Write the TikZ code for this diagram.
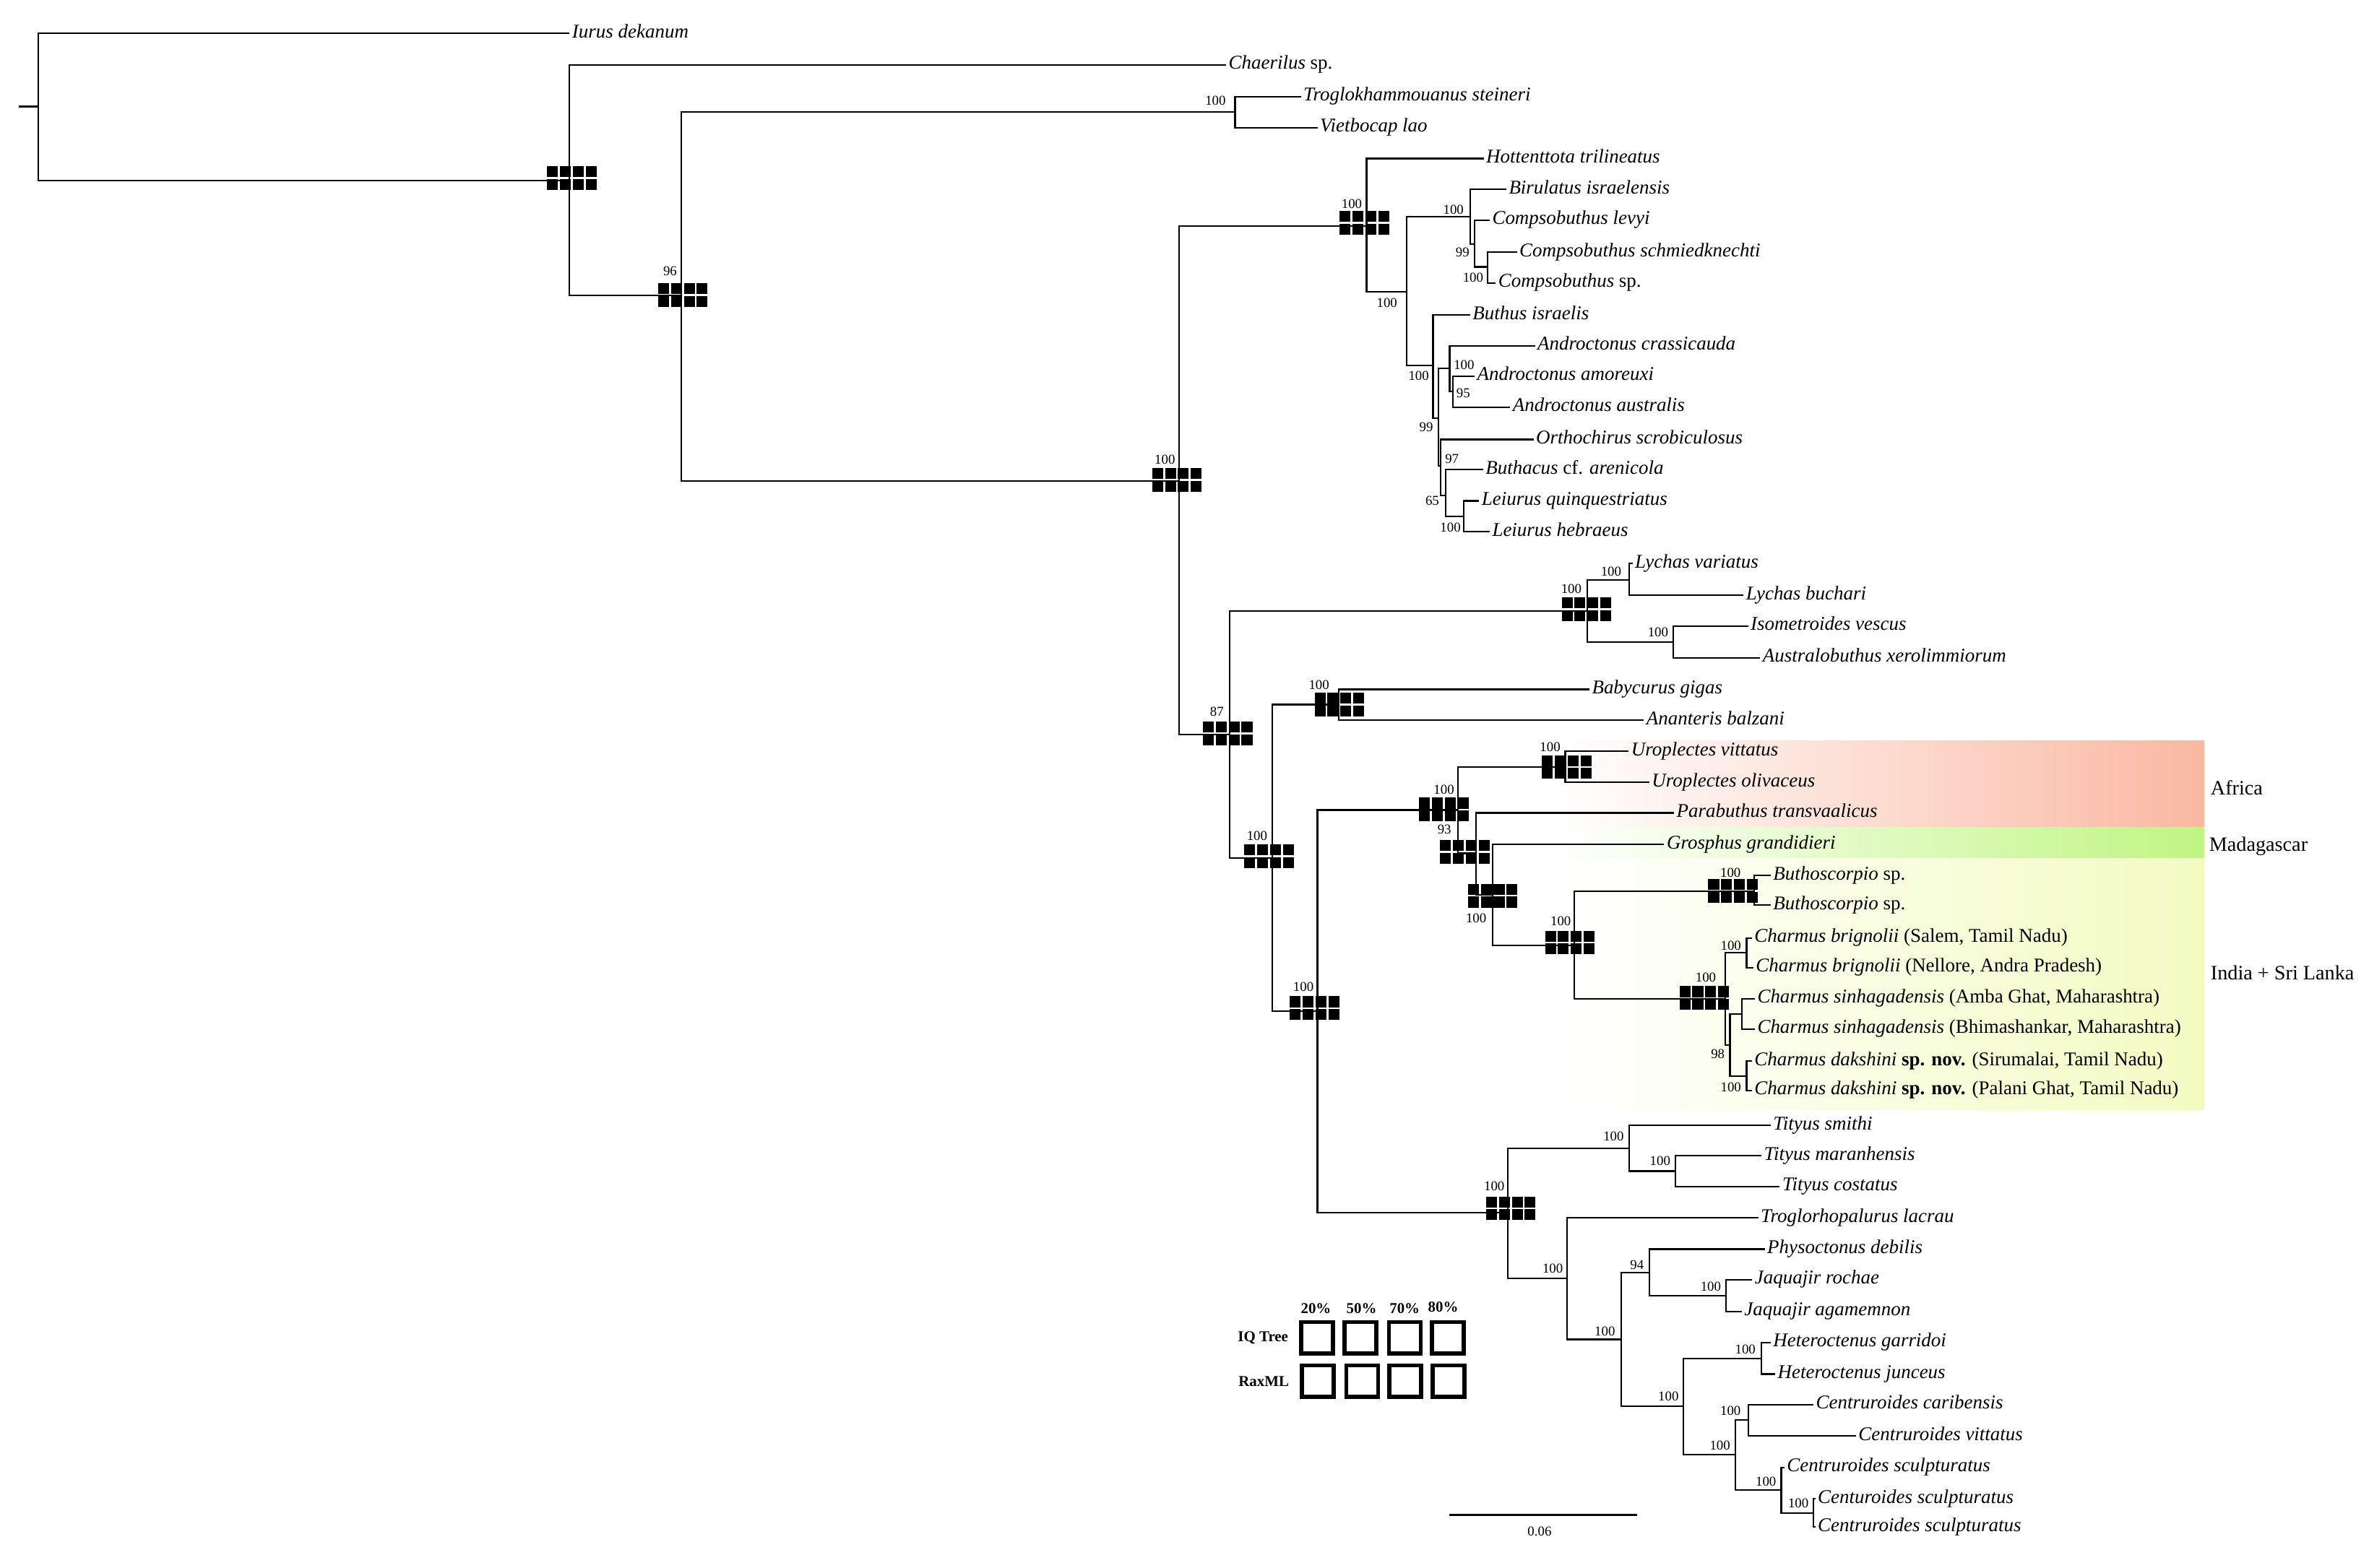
\documentclass[tikz,border=0pt]{standalone}
\usepackage{fontspec}
\setmainfont{Liberation Serif}
\usepackage{tikz}
\definecolor{africa}{RGB}{250,184,162}
\definecolor{madagascar}{RGB}{192,245,130}
\definecolor{india}{RGB}{243,251,194}

\tikzset{
  support/.pic={
    \foreach \i in {0,...,3}
      \foreach \j in {0,1}
        \fill (-16.35+8.5*\i,-7.85+8.5*\j) rectangle ++(7.2,7.2);
  },
  branch/.style={line width=1.05pt},
  taxon/.style={anchor=base west, inner sep=0pt, xshift=1.5pt, yshift=-2.9pt,
    font=\fontsize{12.9}{14}\selectfont},
  boot/.style={inner sep=0pt, font=\fontsize{9}{9}\selectfont},
  region/.style={anchor=west, inner sep=0pt, font=\fontsize{13.5}{15}\selectfont},
  legendbox/.style={draw, line width=2.6pt, minimum size=21pt, inner sep=0pt},
  legendtext/.style={inner sep=0pt, font=\bfseries\fontsize{10}{11}\selectfont}
}

\begin{document}
\begin{tikzpicture}[x=1pt,y=-1pt]
\useasboundingbox (0,0) rectangle (1568,1038.1);

\shade[left color=white, right color=africa] (1030,490.5) rectangle (1458.6,547.8);
\shade[left color=white, right color=madagascar] (1030,547.8) rectangle (1458.6,568.2);
\shade[left color=white, right color=india] (1030,568.2) rectangle (1458.6,734.7);
\node[region] (africaL) at (1463,521.4) {Africa};
\node[region] (madaL) at (1462,560.5) {Madagascar};
\node[region] (indiaL) at (1463,644) {India + Sri Lanka};

\pic at (378.5,118) {support};
\pic at (452,195.5) {support};
\pic at (779,317.6) {support};
\pic at (903,147.5) {support};
\pic at (812.6,485.5) {support};
\pic at (1050,403.5) {support};
\pic at (840,567) {support};
\pic at (886.5,466.5) {support};
\pic at (870,667.5) {support};
\pic at (955.7,536) {support};
\pic at (1037,507.8) {support};
\pic at (969.5,564) {support};
\pic at (988,593) {support};
\pic at (1039,624) {support};
\pic at (1147,590) {support};
\pic at (1128,660.8) {support};
\pic at (1000,800) {support};

\coordinate (root0) at (12.5,70.5);
\coordinate (R) at (25.2,70.5);
\coordinate (A) at (377,119.5);
\coordinate (B) at (451,195.5);
\coordinate (C) at (817.5,74);
\coordinate (D) at (780.5,318.5);
\coordinate (E) at (904.5,149.5);
\coordinate (F) at (931,193);
\coordinate (G) at (973,143.5);
\coordinate (H) at (976,161.6);
\coordinate (I) at (984.5,176.7);
\coordinate (J) at (948.5,242);
\coordinate (K) at (952,276.7);
\coordinate (L) at (959.5,244);
\coordinate (M) at (961.5,259.3);
\coordinate (N) at (953.5,308.6);
\coordinate (O) at (956.8,328);
\coordinate (P) at (969,342);
\coordinate (Q) at (814,486.5);
\coordinate (S) at (1050.6,404.5);
\coordinate (T) at (1078.4,384);
\coordinate (U) at (1107.3,425);
\coordinate (V) at (842,568);
\coordinate (W) at (886,466.5);
\coordinate (X) at (872,669.5);
\coordinate (N1) at (964.8,536.3);
\coordinate (Uro) at (1036,507.7);
\coordinate (N2) at (977,565);
\coordinate (N3) at (988,592.5);
\coordinate (N4) at (1042,626);
\coordinate (N5) at (1142,661.3);
\coordinate (N6) at (1161,590);
\coordinate (brig) at (1156,630.8);
\coordinate (N7) at (1145,692);
\coordinate (sinh) at (1153,671.3);
\coordinate (daks) at (1156,712.5);
\coordinate (Y) at (998,803);
\coordinate (Tit) at (1078.3,760.2);
\coordinate (Tit2) at (1108.8,775.4);
\coordinate (Z) at (1037,846.5);
\coordinate (Z2) at (1073,886.8);
\coordinate (Phy) at (1091.8,842.5);
\coordinate (Jaq) at (1142.4,857.7);
\coordinate (Z3) at (1114,931);
\coordinate (Het) at (1165.8,899.3);
\coordinate (Cen) at (1148.5,963.2);
\coordinate (Cen1) at (1157.3,940.3);
\coordinate (Cen2) at (1179,986.6);
\coordinate (Cen3) at (1200.3,1001.7);

\coordinate (iurus) at (377,22);
\coordinate (chaer) at (811.5,43);
\coordinate (trog) at (861,64);
\coordinate (viet) at (872,84.5);
\coordinate (hott) at (982,105);
\coordinate (biru) at (997,125.4);
\coordinate (clev) at (986,145.7);
\coordinate (csch) at (1004,167);
\coordinate (csp) at (990,187.3);
\coordinate (buth) at (973,208.5);
\coordinate (acra) at (1016,229);
\coordinate (aamo) at (976,249);
\coordinate (aaus) at (999.6,269.6);
\coordinate (orth) at (1015,291);
\coordinate (buthac) at (981.6,311);
\coordinate (lqui) at (979,331.6);
\coordinate (lheb) at (986,352);
\coordinate (lvar) at (1080.5,373);
\coordinate (lbuc) at (1154,394.2);
\coordinate (isom) at (1157,414.5);
\coordinate (aust) at (1165,435.6);
\coordinate (baby) at (1052,456.4);
\coordinate (anan) at (1088,476.8);
\coordinate (uvit) at (1078,497.3);
\coordinate (uoli) at (1091.6,518);
\coordinate (para) at (1108,538.2);
\coordinate (gros) at (1101.5,559);
\coordinate (bsp1) at (1172,579.6);
\coordinate (bsp2) at (1172,599.3);
\coordinate (cbs) at (1159.5,621);
\coordinate (cbn) at (1160.5,640.6);
\coordinate (csa) at (1161.5,661.3);
\coordinate (csb) at (1161.5,681.3);
\coordinate (cds) at (1159.5,702.5);
\coordinate (cdp) at (1159.5,722);
\coordinate (tsmi) at (1172,745);
\coordinate (tmar) at (1165.8,765.2);
\coordinate (tcos) at (1178,785.5);
\coordinate (trogl) at (1163.7,806.3);
\coordinate (phys) at (1168,827);
\coordinate (jroc) at (1159.8,847.3);
\coordinate (jaga) at (1152.8,868.2);
\coordinate (hgar) at (1172,888.8);
\coordinate (hjun) at (1175,909.8);
\coordinate (ccar) at (1200.3,930);
\coordinate (cvit) at (1228.4,950.7);
\coordinate (cscu1) at (1181,971.5);
\coordinate (cscu2) at (1201.5,992.3);
\coordinate (cscu3) at (1201.5,1011);

\draw[branch] (root0) -- (R);
\draw[branch] (R) |- (iurus);
\draw[branch] (R) |- (A);
\draw[branch] (A) |- (chaer);
\draw[branch] (A) |- (B);
\draw[branch] (B) |- (C);
\draw[branch] (C) |- (trog);
\draw[branch] (C) |- (viet);
\draw[branch] (B) |- (D);
\draw[branch] (D) |- (E);
\draw[branch] (E) |- (hott);
\draw[branch] (E) |- (F);
\draw[branch] (F) |- (G);
\draw[branch] (G) |- (biru);
\draw[branch] (G) |- (H);
\draw[branch] (H) |- (clev);
\draw[branch] (H) |- (I);
\draw[branch] (I) |- (csch);
\draw[branch] (I) |- (csp);
\draw[branch] (F) |- (J);
\draw[branch] (J) |- (buth);
\draw[branch] (J) |- (K);
\draw[branch] (K) |- (L);
\draw[branch] (L) |- (acra);
\draw[branch] (L) |- (M);
\draw[branch] (M) |- (aamo);
\draw[branch] (M) |- (aaus);
\draw[branch] (K) |- (N);
\draw[branch] (N) |- (orth);
\draw[branch] (N) |- (O);
\draw[branch] (O) |- (buthac);
\draw[branch] (O) |- (P);
\draw[branch] (P) |- (lqui);
\draw[branch] (P) |- (lheb);
\draw[branch] (D) |- (Q);
\draw[branch] (Q) |- (S);
\draw[branch] (S) |- (T);
\draw[branch] (T) |- (lvar);
\draw[branch] (T) |- (lbuc);
\draw[branch] (S) |- (U);
\draw[branch] (U) |- (isom);
\draw[branch] (U) |- (aust);
\draw[branch] (Q) |- (V);
\draw[branch] (V) |- (W);
\draw[branch] (W) |- (baby);
\draw[branch] (W) |- (anan);
\draw[branch] (V) |- (X);
\draw[branch] (X) |- (N1);
\draw[branch] (N1) |- (Uro);
\draw[branch] (Uro) |- (uvit);
\draw[branch] (Uro) |- (uoli);
\draw[branch] (N1) |- (N2);
\draw[branch] (N2) |- (para);
\draw[branch] (N2) |- (N3);
\draw[branch] (N3) |- (gros);
\draw[branch] (N3) |- (N4);
\draw[branch] (N4) |- (N6);
\draw[branch] (N6) |- (bsp1);
\draw[branch] (N6) |- (bsp2);
\draw[branch] (N4) |- (N5);
\draw[branch] (N5) |- (brig);
\draw[branch] (brig) |- (cbs);
\draw[branch] (brig) |- (cbn);
\draw[branch] (N5) |- (N7);
\draw[branch] (N7) |- (sinh);
\draw[branch] (sinh) |- (csa);
\draw[branch] (sinh) |- (csb);
\draw[branch] (N7) |- (daks);
\draw[branch] (daks) |- (cds);
\draw[branch] (daks) |- (cdp);
\draw[branch] (X) |- (Y);
\draw[branch] (Y) |- (Tit);
\draw[branch] (Tit) |- (tsmi);
\draw[branch] (Tit) |- (Tit2);
\draw[branch] (Tit2) |- (tmar);
\draw[branch] (Tit2) |- (tcos);
\draw[branch] (Y) |- (Z);
\draw[branch] (Z) |- (trogl);
\draw[branch] (Z) |- (Z2);
\draw[branch] (Z2) |- (Phy);
\draw[branch] (Phy) |- (phys);
\draw[branch] (Phy) |- (Jaq);
\draw[branch] (Jaq) |- (jroc);
\draw[branch] (Jaq) |- (jaga);
\draw[branch] (Z2) |- (Z3);
\draw[branch] (Z3) |- (Het);
\draw[branch] (Het) |- (hgar);
\draw[branch] (Het) |- (hjun);
\draw[branch] (Z3) |- (Cen);
\draw[branch] (Cen) |- (Cen1);
\draw[branch] (Cen1) |- (ccar);
\draw[branch] (Cen1) |- (cvit);
\draw[branch] (Cen) |- (Cen2);
\draw[branch] (Cen2) |- (cscu1);
\draw[branch] (Cen2) |- (Cen3);
\draw[branch] (Cen3) |- (cscu2);
\draw[branch] (Cen3) |- (cscu3);

\node[taxon] (iurusL) at (iurus) {\textit{Iurus dekanum}};
\node[taxon] (chaerL) at (chaer) {\textit{Chaerilus} sp.};
\node[taxon] (trogL) at (trog) {\textit{Troglokhammouanus steineri}};
\node[taxon] (vietL) at (viet) {\textit{Vietbocap lao}};
\node[taxon] (hottL) at (hott) {\textit{Hottenttota trilineatus}};
\node[taxon] (biruL) at (biru) {\textit{Birulatus israelensis}};
\node[taxon] (clevL) at (clev) {\textit{Compsobuthus levyi}};
\node[taxon] (cschL) at (csch) {\textit{Compsobuthus schmiedknechti}};
\node[taxon] (cspL) at (csp) {\textit{Compsobuthus} sp.};
\node[taxon] (buthL) at (buth) {\textit{Buthus israelis}};
\node[taxon] (acraL) at (acra) {\textit{Androctonus crassicauda}};
\node[taxon] (aamoL) at (aamo) {\textit{Androctonus amoreuxi}};
\node[taxon] (aausL) at (aaus) {\textit{Androctonus australis}};
\node[taxon] (orthL) at (orth) {\textit{Orthochirus scrobiculosus}};
\node[taxon] (buthacL) at (buthac) {\textit{Buthacus} cf. \textit{arenicola}};
\node[taxon] (lquiL) at (lqui) {\textit{Leiurus quinquestriatus}};
\node[taxon] (lhebL) at (lheb) {\textit{Leiurus hebraeus}};
\node[taxon] (lvarL) at (lvar) {\textit{Lychas variatus}};
\node[taxon] (lbucL) at (lbuc) {\textit{Lychas buchari}};
\node[taxon] (isomL) at (isom) {\textit{Isometroides vescus}};
\node[taxon] (austL) at (aust) {\textit{Australobuthus xerolimmiorum}};
\node[taxon] (babyL) at (baby) {\textit{Babycurus gigas}};
\node[taxon] (ananL) at (anan) {\textit{Ananteris balzani}};
\node[taxon] (uvitL) at (uvit) {\textit{Uroplectes vittatus}};
\node[taxon] (uoliL) at (uoli) {\textit{Uroplectes olivaceus}};
\node[taxon] (paraL) at (para) {\textit{Parabuthus transvaalicus}};
\node[taxon] (grosL) at (gros) {\textit{Grosphus grandidieri}};
\node[taxon] (bsp1L) at (bsp1) {\textit{Buthoscorpio} sp.};
\node[taxon] (bsp2L) at (bsp2) {\textit{Buthoscorpio} sp.};
\node[taxon] (cbsL) at (cbs) {\textit{Charmus brignolii} (Salem, Tamil Nadu)};
\node[taxon] (cbnL) at (cbn) {\textit{Charmus brignolii} (Nellore, Andra Pradesh)};
\node[taxon] (csaL) at (csa) {\textit{Charmus sinhagadensis} (Amba Ghat, Maharashtra)};
\node[taxon] (csbL) at (csb) {\textit{Charmus sinhagadensis} (Bhimashankar, Maharashtra)};
\node[taxon] (cdsL) at (cds) {\textit{Charmus dakshini} \textbf{sp. nov.} (Sirumalai, Tamil Nadu)};
\node[taxon] (cdpL) at (cdp) {\textit{Charmus dakshini} \textbf{sp. nov.} (Palani Ghat, Tamil Nadu)};
\node[taxon] (tsmiL) at (tsmi) {\textit{Tityus smithi}};
\node[taxon] (tmarL) at (tmar) {\textit{Tityus maranhensis}};
\node[taxon] (tcosL) at (tcos) {\textit{Tityus costatus}};
\node[taxon] (troglL) at (trogl) {\textit{Troglorhopalurus lacrau}};
\node[taxon] (physL) at (phys) {\textit{Physoctonus debilis}};
\node[taxon] (jrocL) at (jroc) {\textit{Jaquajir rochae}};
\node[taxon] (jagaL) at (jaga) {\textit{Jaquajir agamemnon}};
\node[taxon] (hgarL) at (hgar) {\textit{Heteroctenus garridoi}};
\node[taxon] (hjunL) at (hjun) {\textit{Heteroctenus junceus}};
\node[taxon] (ccarL) at (ccar) {\textit{Centruroides caribensis}};
\node[taxon] (cvitL) at (cvit) {\textit{Centruroides vittatus}};
\node[taxon] (cscu1L) at (cscu1) {\textit{Centruroides sculpturatus}};
\node[taxon] (cscu2L) at (cscu2) {\textit{Centuroides sculpturatus}};
\node[taxon] (cscu3L) at (cscu3) {\textit{Centruroides sculpturatus}};

\node[boot] (bB) at (443.5,179.5) {96};
\node[boot] (bC) at (804.5,66.5) {100};
\node[boot] (bD) at (771,304.5) {100};
\node[boot] (bE) at (894.7,135) {100};
\node[boot] (bF) at (918,200.6) {100};
\node[boot] (bG) at (962,139) {100};
\node[boot] (bH) at (968,167) {99};
\node[boot] (bI) at (975,184) {100};
\node[boot] (bJ) at (939,249) {100};
\node[boot] (bK) at (944,283) {99};
\node[boot] (bL) at (969,241.5) {100};
\node[boot] (bM) at (968.5,260.5) {95};
\node[boot] (bN) at (961,304) {97};
\node[boot] (bO) at (948,331.6) {65};
\node[boot] (bP) at (960,349) {100};
\node[boot] (bQ) at (805.4,471.2) {87};
\node[boot] (bS) at (1040,390) {100};
\node[boot] (bT) at (1066.3,378.6) {100};
\node[boot] (bU) at (1097.4,418.8) {100};
\node[boot] (bV) at (832,553.6) {100};
\node[boot] (bW) at (873,453.6) {100};
\node[boot] (bX) at (862.7,653.3) {100};
\node[boot] (bN1) at (955.7,522.7) {100};
\node[boot] (bUro) at (1026,494.8) {100};
\node[boot] (bN2) at (956,549) {93};
\node[boot] (bN3) at (977,608) {100};
\node[boot] (bN4) at (1033,609.7) {100};
\node[boot] (bN6) at (1145.4,578) {100};
\node[boot] (bN5) at (1129,647) {100};
\node[boot] (bbrig) at (1145.6,626) {100};
\node[boot] (bN7) at (1137,698) {98};
\node[boot] (bdaks) at (1145.6,720) {100};
\node[boot] (bY) at (989,785.5) {100};
\node[boot] (bTit) at (1068,752.3) {100};
\node[boot] (bTit2) at (1098.8,768.7) {100};
\node[boot] (bZ) at (1027.7,840) {100};
\node[boot] (bZ2) at (1062.2,881.5) {100};
\node[boot] (bPhy) at (1083.5,837.4) {94};
\node[boot] (bJaq) at (1132.3,851.8) {100};
\node[boot] (bZ3) at (1104.3,924.6) {100};
\node[boot] (bHet) at (1155.2,893.4) {100};
\node[boot] (bCen) at (1138.4,957.2) {100};
\node[boot] (bCen1) at (1145.4,933.9) {100};
\node[boot] (bCen2) at (1168.8,981) {100};
\node[boot] (bCen3) at (1190.3,995.2) {100};

\node[legendbox] (iq1) at (871.7,885.7) {};
\node[legendbox] (iq2) at (900.4,885.7) {};
\node[legendbox] (iq3) at (929.9,885.7) {};
\node[legendbox] (iq4) at (958.3,885.7) {};
\node[legendbox] (rax1) at (872.2,914.4) {};
\node[legendbox] (rax2) at (901.7,914.4) {};
\node[legendbox] (rax3) at (930,914.4) {};
\node[legendbox] (rax4) at (958.8,914.4) {};
\node[legendtext] (p20) at (871,866.4) {20\%};
\node[legendtext] (p50) at (901.2,866.4) {50\%};
\node[legendtext] (p70) at (929.7,866.4) {70\%};
\node[legendtext] (p80) at (955.2,865.3) {80\%};
\node[legendtext, anchor=east] (iqL) at (852.8,885.5) {IQ Tree};
\node[legendtext, anchor=east] (raxL) at (853.3,914.7) {RaxML};

\coordinate (bar0) at (959.4,1003);
\coordinate (bar1) at (1083.5,1003);
\draw[branch] (bar0) -- (bar1);
\node[boot] (barL) at (1019,1014) {0.06};
\end{tikzpicture}
\end{document}
